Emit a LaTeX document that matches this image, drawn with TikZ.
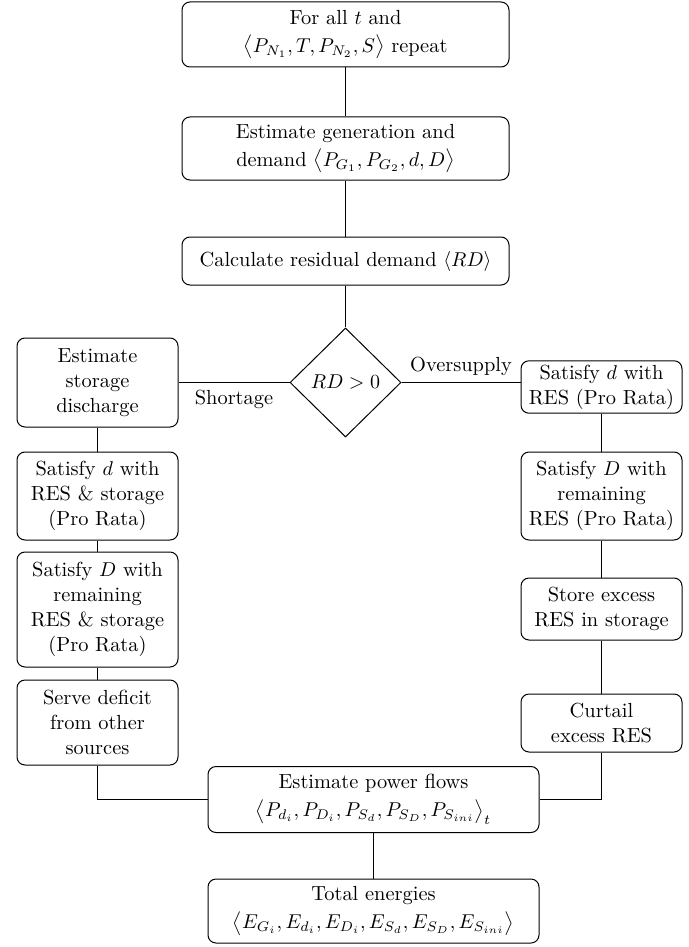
\documentclass[tikz,border=0pt]{standalone}
\usetikzlibrary{shapes.geometric}
\begin{document}
\begin{tikzpicture}[x=0.5pt,y=-0.5pt,
  line width=0.5pt,
  box/.style={draw, rounded corners=4pt, align=center, inner sep=2pt,
    font=\fontsize{10.2}{12.5}\selectfont},
  colbox/.style={box, minimum width=80.5pt},
  widebox/.style={box, minimum width=163.5pt},
  lbl/.style={font=\fontsize{10.2}{12.5}\selectfont}]
\useasboundingbox (0,0) rectangle (689,947);
\node[widebox, minimum height=32.5pt] (b1) at (345.5,34.5)
  {For all $t$ and\\[1.5pt] $\bigl\langle P_{N_1}, T, P_{N_2}, S\bigr\rangle$ repeat};
\node[widebox, minimum height=31.5pt] (b2) at (345.5,148.5)
  {Estimate generation and\\[1.5pt] demand $\bigl\langle P_{G_1}, P_{G_2}, d, D\bigr\rangle$};
\node[widebox, minimum height=24pt] (b3) at (345.5,261)
  {Calculate residual demand $\langle RD\rangle$};
\node[draw, diamond, inner sep=0pt, minimum width=55.5pt, minimum height=54.5pt,
  font=\fontsize{10.2}{12.5}\selectfont] (dia) at (345.5,382.5) {$RD>0$};
\node[colbox, minimum height=44.5pt] (l1) at (97.5,382.5)
  {Estimate\\ storage\\ discharge};
\node[colbox, minimum height=44pt] (l2) at (97.5,496)
  {Satisfy $d$ with\\ RES \& storage\\ (Pro Rata)};
\node[colbox, minimum height=57.5pt] (l3) at (97.5,609.5)
  {Satisfy $D$ with\\ remaining\\ RES \& storage\\ (Pro Rata)};
\node[colbox, minimum height=42.5pt] (l4) at (97.5,722.5)
  {Serve deficit\\ from other\\ sources};
\node[colbox, minimum height=26pt] (r1) at (601.5,387)
  {Satisfy $d$ with\\ RES (Pro Rata)};
\node[colbox, minimum height=44pt] (r2) at (601.5,496)
  {Satisfy $D$ with\\ remaining\\ RES (Pro Rata)};
\node[colbox, minimum height=31pt] (r3) at (601.5,609)
  {Store excess\\ RES in storage};
\node[colbox, minimum height=29pt] (r4) at (601.5,723)
  {Curtail\\ excess RES};
\node[box, minimum width=165.5pt, minimum height=33pt] (pf) at (373.5,799.5)
  {Estimate power flows\\[1.5pt] $\bigl\langle P_{d_i}, P_{D_i}, P_{S_d}, P_{S_D}, P_{S_{ini}}\bigr\rangle_t$};
\node[box, minimum width=165.5pt, minimum height=32pt] (te) at (373.5,911)
  {Total energies\\[1.5pt] $\bigl\langle E_{G_i}, E_{d_i}, E_{D_i}, E_{S_d}, E_{S_D}, E_{S_{ini}}\bigr\rangle$};
\draw (b1) -- (b2);
\draw (b2) -- (b3);
\draw (b3) -- (dia);
\draw (dia.west) -- node[lbl, midway, below] {Shortage} (dia.west -| l1.east);
\draw (dia.east) -- node[lbl, midway, above] {Oversupply} (dia.east -| r1.west);
\draw (l1) -- (l2);
\draw (l2) -- (l3);
\draw (l3) -- (l4);
\draw (r1) -- (r2);
\draw (r2) -- (r3);
\draw (r3) -- (r4);
\draw (l4.south) |- (pf.west);
\draw (r4.south) |- (pf.east);
\draw (pf) -- (te);
\end{tikzpicture}
\end{document}
